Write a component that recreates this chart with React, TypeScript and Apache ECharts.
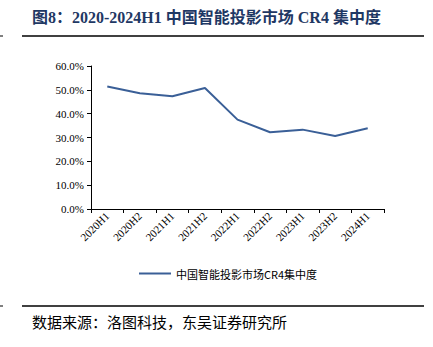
import React, { useEffect, useRef } from "react";
import * as echarts from "echarts";

const categories = ["2020H1", "2020H2", "2021H1", "2021H2", "2022H1", "2022H2", "2023H1", "2023H2", "2024H1"];
const cr4Values = [51.4, 48.6, 47.3, 50.8, 37.5, 32.2, 33.3, 30.6, 33.9];
const seriesName = "中国智能投影市场CR4集中度";
const titleText = "图8：2020-2024H1 中国智能投影市场 CR4 集中度";
const sourceText = "数据来源：洛图科技，东吴证券研究所";

export default function App() {
  const ref = useRef<HTMLDivElement>(null);
  useEffect(() => {
    if (!ref.current) return;
    const chart = echarts.init(ref.current, null, { renderer: "svg" });
    chart.setOption({
      animation: false,
      backgroundColor: "#ffffff",
      grid: { left: 91, right: 49, top: 66, bottom: 138 },
      xAxis: {
        type: "category",
        data: categories,
        boundaryGap: true,
        axisLine: { lineStyle: { color: "#000", width: 1 } },
        axisTick: { show: true, alignWithLabel: false, length: 4, lineStyle: { color: "#000" } },
        axisLabel: {
          rotate: 45,
          interval: 0,
          fontFamily: "Liberation Serif",
          fontSize: 11,
          color: "#000",
          margin: 5,
        },
      },
      yAxis: {
        type: "value",
        min: 0,
        max: 60,
        interval: 10,
        axisLine: { show: true, lineStyle: { color: "#000", width: 1 } },
        axisTick: { show: true, length: 4, inside: false, lineStyle: { color: "#000" } },
        splitLine: { show: false },
        axisLabel: {
          formatter: (v: number) => v.toFixed(1) + "%",
          fontFamily: "Liberation Serif",
          fontSize: 11,
          color: "#000",
          margin: 7,
        },
      },
      legend: {
        data: [seriesName],
        left: 134,
        top: 263,
        icon: "rect",
        itemWidth: 32,
        itemHeight: 2,
        itemGap: 5,
        textStyle: { fontFamily: "Noto Sans CJK SC", fontSize: 11, color: "#000" },
      },
      series: [
        {
          name: seriesName,
          type: "line",
          data: cr4Values,
          symbol: "none",
          lineStyle: { color: "#3a5f97", width: 2 },
          itemStyle: { color: "#3a5f97" },
        },
      ],
      graphic: [
        {
          type: "text",
          left: 32,
          top: 9,
          style: {
            text: titleText,
            font: "bold 16px 'Liberation Serif', 'Noto Sans CJK SC'",
            fill: "#1f3864",
          },
        },
        {
          type: "line",
          shape: { x1: 22, y1: 36, x2: 424, y2: 36 },
          style: { stroke: "#000", lineWidth: 1.5 },
        },
        {
          type: "line",
          shape: { x1: 0, y1: 36, x2: 3, y2: 36 },
          style: { stroke: "#000", lineWidth: 1 },
        },
        {
          type: "line",
          shape: { x1: 22, y1: 306, x2: 424, y2: 306 },
          style: { stroke: "#000", lineWidth: 1.5 },
        },
        {
          type: "line",
          shape: { x1: 0, y1: 306, x2: 3, y2: 306 },
          style: { stroke: "#000", lineWidth: 1 },
        },
        {
          type: "text",
          left: 32,
          top: 314,
          style: {
            text: sourceText,
            font: "15px 'Noto Sans CJK SC'",
            fill: "#000",
          },
        },
      ],
    });
    return () => chart.dispose();
  }, []);
  return (
    <div
      ref={ref}
      style={{ position: "fixed", left: 0, top: 0, width: 433, height: 347, background: "#fff" }}
    />
  );
}
